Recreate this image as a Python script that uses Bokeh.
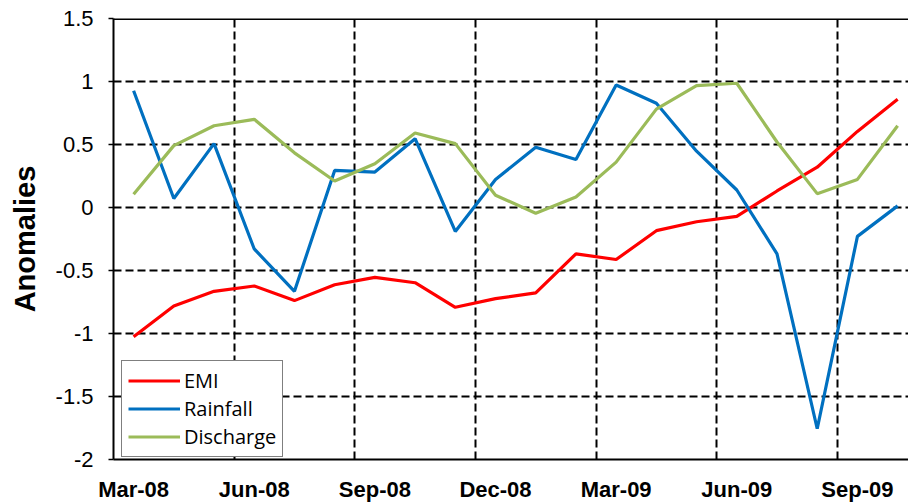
from bokeh.plotting import figure
from bokeh.models import FixedTicker, Span, Legend, LegendItem
from bokeh.embed import file_html
from bokeh.resources import INLINE

months = ["Mar-08", "Apr-08", "May-08", "Jun-08", "Jul-08", "Aug-08", "Sep-08", "Oct-08",
          "Nov-08", "Dec-08", "Jan-09", "Feb-09", "Mar-09", "Apr-09", "May-09", "Jun-09",
          "Jul-09", "Aug-09", "Sep-09", "Oct-09"]
emi = [-1.025, -0.781, -0.665, -0.623, -0.739, -0.613, -0.555, -0.597, -0.792, -0.723,
       -0.678, -0.368, -0.413, -0.184, -0.113, -0.071, 0.131, 0.32, 0.604, 0.86]
rainfall = [0.927, 0.071, 0.507, -0.329, -0.665, 0.294, 0.281, 0.546, -0.19, 0.223,
            0.478, 0.381, 0.972, 0.828, 0.447, 0.139, -0.368, -1.756, -0.229, 0.013]
discharge = [0.105, 0.491, 0.649, 0.70, 0.434, 0.21, 0.347, 0.591, 0.507, 0.097,
             -0.045, 0.084, 0.36, 0.781, 0.967, 0.986, 0.52, 0.11, 0.223, 0.649]
y_ticks = [-2, -1.5, -1, -0.5, 0, 0.5, 1, 1.5]
y_tick_labels = ["-2", "-1.5", "-1", "-0.5", "0", "0.5", "1", "1.5"]
label_every = 3

xs = list(range(len(months)))

p = figure(width=908, height=504, x_range=(-0.5, 19.27), y_range=(-2, 1.5),
           output_backend="svg", toolbar_location=None,
           min_border_left=113, min_border_right=0, min_border_top=18, min_border_bottom=44)
p.outline_line_color = None
p.background_fill_color = "white"
p.border_fill_color = "white"

# axes
xt = [i for i in xs if i % label_every == 0]
p.xaxis.ticker = FixedTicker(ticks=xt)
p.xaxis.major_label_overrides = {i: months[i] for i in xt}
p.xaxis.major_tick_line_color = None
p.xaxis.minor_tick_line_color = None
p.xaxis.axis_line_width = 2
p.xaxis.axis_line_color = "black"
p.xaxis.major_label_text_font = "Liberation Sans"
p.xaxis.major_label_text_font_style = "bold"
p.xaxis.major_label_text_font_size = "22px"
p.xaxis.major_label_text_color = "black"
p.xaxis.major_label_standoff = 11

p.yaxis.ticker = FixedTicker(ticks=y_ticks)
p.yaxis.major_label_overrides = {t: l for t, l in zip(y_ticks, y_tick_labels)}
p.yaxis.major_tick_out = 5
p.yaxis.major_tick_in = 0
p.yaxis.major_tick_line_width = 1.5
p.yaxis.minor_tick_line_color = None
p.yaxis.axis_line_width = 2
p.yaxis.axis_line_color = "black"
p.yaxis.major_label_text_font = "Liberation Sans"
p.yaxis.major_label_text_font_size = "22px"
p.yaxis.major_label_text_color = "black"
p.yaxis.major_label_standoff = 15
p.yaxis.axis_label = "Anomalies"
p.yaxis.axis_label_text_font = "Liberation Sans"
p.yaxis.axis_label_text_font_style = "bold"
p.yaxis.axis_label_text_font_size = "29px"
p.yaxis.axis_label_text_color = "black"
p.yaxis.axis_label_standoff = 12

# grids
p.xgrid.ticker = FixedTicker(ticks=[i + 0.5 for i in xs if i % label_every == 2 and i < len(months) - 1])
p.xgrid.grid_line_color = "black"
p.xgrid.grid_line_dash = "8 4"
p.xgrid.grid_line_width = 2
p.ygrid.grid_line_color = "black"
p.ygrid.grid_line_dash = "8 4"
p.ygrid.grid_line_width = 2

p.add_layout(Span(location=1.5, dimension="width", line_color="black", line_width=3))

r_emi = p.line(xs, emi, line_color="#FF0000", line_width=3.2)
r_rain = p.line(xs, rainfall, line_color="#0070C0", line_width=3.2)
r_dis = p.line(xs, discharge, line_color="#9BBB59", line_width=3.2)

legend = Legend(items=[LegendItem(label="EMI", renderers=[r_emi]),
                       LegendItem(label="Rainfall", renderers=[r_rain]),
                       LegendItem(label="Discharge", renderers=[r_dis])],
                location=(8, 2))
legend.glyph_width = 52
legend.glyph_height = 25
legend.label_standoff = 4
legend.spacing = 1
legend.padding = 6
legend.margin = 0
legend.label_text_font = "Open Sans"
legend.label_text_font_size = "20px"
legend.label_text_color = "black"
legend.border_line_color = "black"
legend.border_line_width = 1.5
legend.background_fill_color = "white"
legend.background_fill_alpha = 1
p.add_layout(legend)

open("out.html", "w").write(file_html(p, INLINE))
